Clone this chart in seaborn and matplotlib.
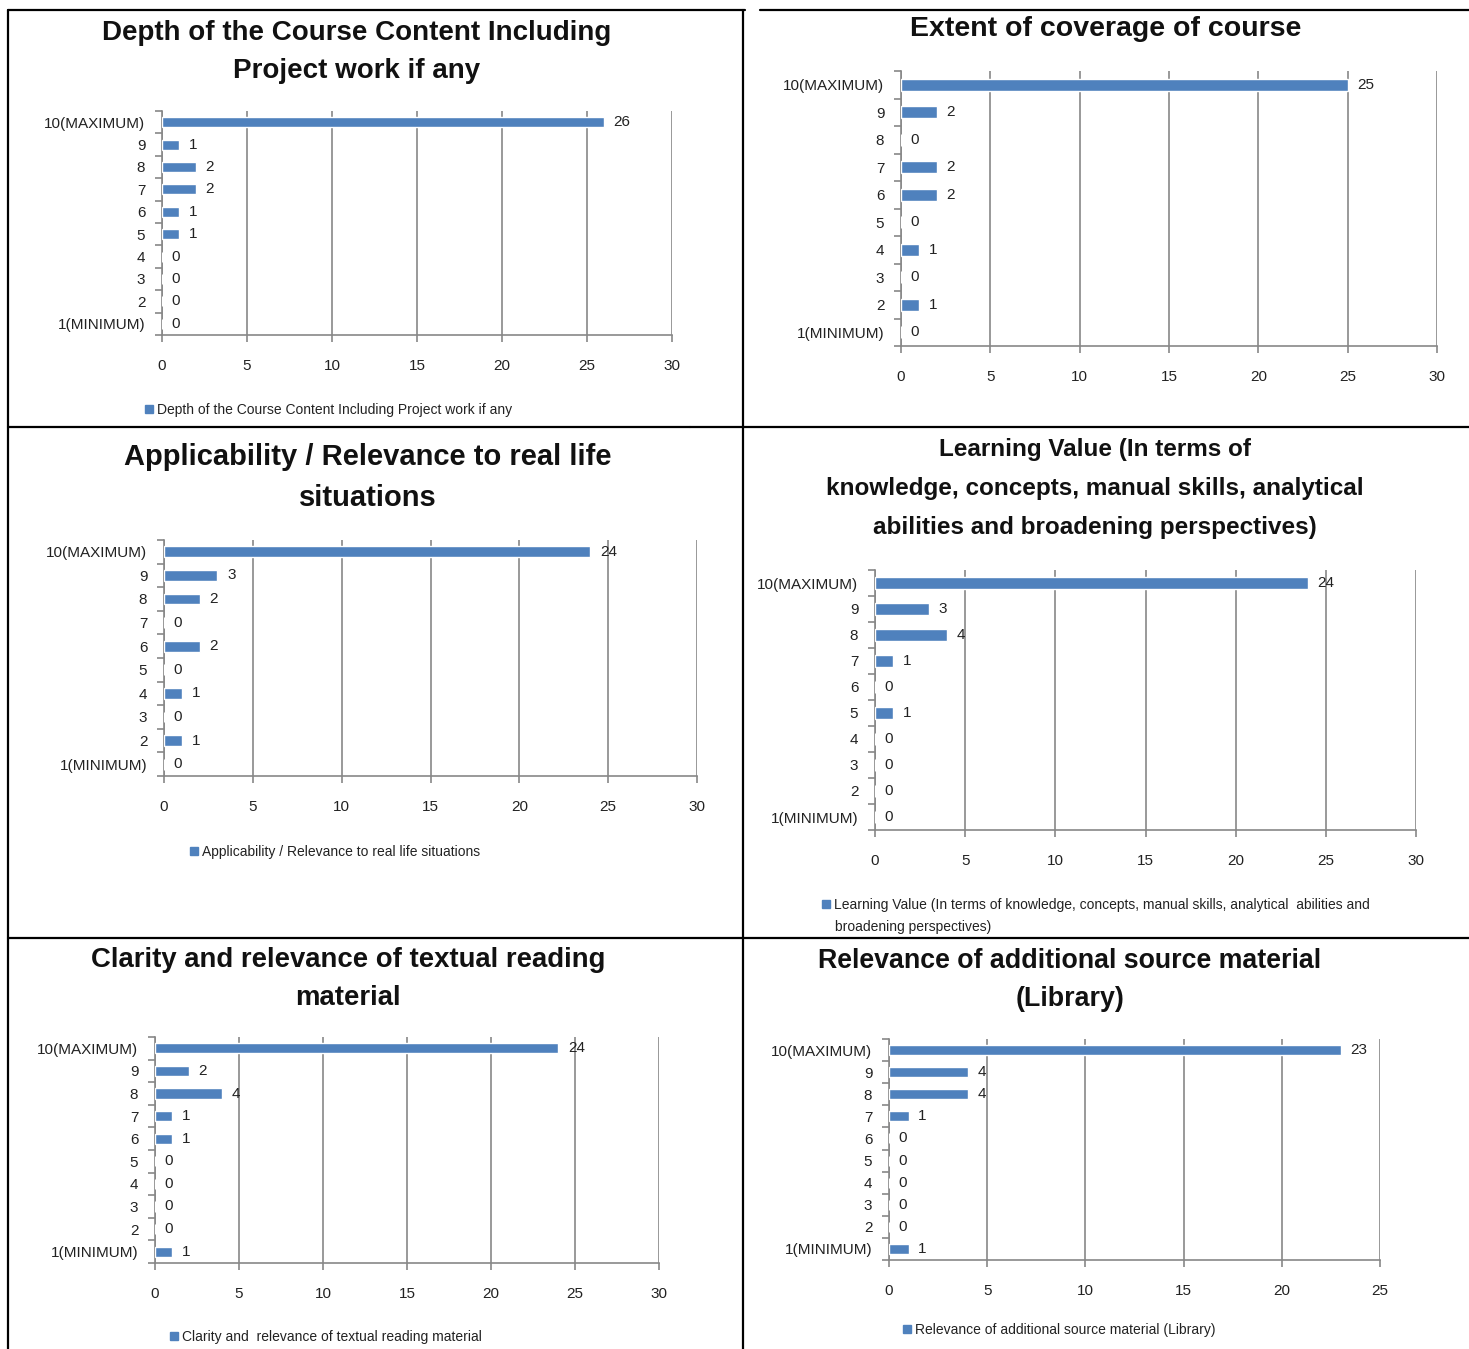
import matplotlib
matplotlib.use("Agg")
import matplotlib.pyplot as plt
from matplotlib.patches import Patch
from matplotlib.lines import Line2D
import seaborn as sns
import pandas as pd

sns.set_theme(style="white")
plt.rcParams['font.family'] = ['Liberation Sans', 'DejaVu Sans']

# ---------------- data ----------------
categories = ["10(MAXIMUM)", "9", "8", "7", "6", "5", "4", "3", "2", "1(MINIMUM)"]

depth_values = [26, 1, 2, 2, 1, 1, 0, 0, 0, 0]
extent_values = [25, 2, 0, 2, 2, 0, 1, 0, 1, 0]
applic_values = [24, 3, 2, 0, 2, 0, 1, 0, 1, 0]
learning_values = [24, 3, 4, 1, 0, 1, 0, 0, 0, 0]
clarity_values = [24, 2, 4, 1, 1, 0, 0, 0, 0, 1]
library_values = [23, 4, 4, 1, 0, 0, 0, 0, 0, 1]

titles = [
    "Depth of the Course Content Including\nProject work if any",
    "Extent of coverage of course",
    "Applicability / Relevance to real life\nsituations",
    "Learning Value (In terms of\nknowledge, concepts, manual skills, analytical\nabilities and broadening perspectives)",
    "Clarity and relevance of textual reading\nmaterial",
    "Relevance of additional source material\n(Library)",
]
legend_labels = [
    "Depth of the Course Content Including Project work if any",
    None,
    "Applicability / Relevance to real life situations",
    "Learning Value (In terms of knowledge, concepts, manual skills, analytical  abilities and",
    "Clarity and  relevance of textual reading material",
    "Relevance of additional source material (Library)",
]
legend_extra = [None, None, None, "broadening perspectives)", None, None]
x_max = [30, 30, 30, 30, 30, 25]
series = [depth_values, extent_values, applic_values, learning_values,
          clarity_values, library_values]

# ---------------- layout (pixels) ----------------
W, H = 1469, 1349
fig = plt.figure(figsize=(W / 100, H / 100), dpi=100)
fig.patch.set_facecolor("white")

boxes = [
    (162, 111, 672, 335),
    (901, 71, 1437, 346),
    (164, 540, 697, 776),
    (875, 570, 1416, 830),
    (155, 1037, 659, 1263),
    (889, 1039, 1380, 1260),
]
title_pos = [(357, 20), (1106, 16), (368, 443), (1095, 438), (348, 947), (1070, 948)]
title_size = [20, 20.5, 21, 17.5, 19.8, 19.3]
title_spacing = [1.6, 1.6, 1.6, 1.9, 1.6, 1.6]
legend_pos = [(145, 410), None, (190, 852), (822, 905), (170, 1337), (903, 1330)]

BLUE = "#4F81BD"
GRID = "#878787"

def fx(x):
    return x / W

def fy(y):
    return 1 - y / H

for i in range(6):
    l, t, r, b = boxes[i]
    ax = fig.add_axes([fx(l), fy(b), (r - l) / W, (b - t) / H])
    df = pd.DataFrame({"rating": categories, "count": series[i]})
    sns.barplot(data=df, y="rating", x="count", order=categories, orient="h",
                color=BLUE, saturation=1, width=0.45, ax=ax, zorder=3)
    ax.set_xlim(0, x_max[i])
    ax.set_ylim(9.5, -0.5)
    ax.set_xlabel("")
    ax.set_ylabel("")
    ax.set_xticks(range(0, x_max[i] + 1, 5))
    ax.xaxis.grid(True, color=GRID, linewidth=1.2, zorder=0)
    ax.yaxis.grid(False)
    for s in ["top", "right"]:
        ax.spines[s].set_visible(False)
    for s in ["left", "bottom"]:
        ax.spines[s].set_color(GRID)
        ax.spines[s].set_linewidth(1.2)
    ax.tick_params(axis="x", length=5, color=GRID, width=1.2, labelsize=11,
                   pad=12, labelcolor="#222222", direction="out", bottom=True)
    ax.tick_params(axis="y", which="major", length=0, labelsize=11, pad=12,
                   labelcolor="#222222", left=False)
    ax.set_yticks([k + 0.5 for k in range(-1, 10)], minor=True)
    ax.tick_params(axis="y", which="minor", length=5, color=GRID, width=1.2,
                   direction="out", left=True)
    for c in ax.containers:
        ax.bar_label(c, padding=7, fontsize=11, color="#222222")
    cx, ty = title_pos[i]
    fig.text(fx(cx), fy(ty), titles[i], ha="center", va="top",
             fontsize=title_size[i], fontweight="bold", color="#111111",
             linespacing=title_spacing[i])
    if legend_labels[i] is not None:
        lx, ly = legend_pos[i]
        fig.legend(handles=[Patch(facecolor=BLUE, edgecolor=BLUE)],
                   labels=[legend_labels[i]], loc="center left",
                   bbox_to_anchor=(fx(lx), fy(ly)), frameon=False,
                   fontsize=10, handlelength=0.55, handleheight=0.55,
                   handletextpad=0.3, borderaxespad=0, borderpad=0,
                   labelcolor="#222222")
    if legend_extra[i] is not None:
        lx, ly = legend_pos[i]
        fig.text(fx(lx + 13), fy(ly + 22), legend_extra[i], ha="left",
                 va="center", fontsize=10, color="#222222")

# ---------------- table borders ----------------
lines = [
    ((8, 745), (10, 10)),
    ((760, 1469), (10, 10)),
    ((8, 690), (427, 427)),
    ((690, 1469), (427, 427)),
    ((8, 1469), (938, 938)),
    ((8, 8), (10, 1349)),
    ((743, 743), (10, 1349)),
]
for (x0, x1), (y0, y1) in lines:
    fig.add_artist(Line2D([fx(x0), fx(x1)], [fy(y0), fy(y1)], color="black",
                          linewidth=1.6, transform=fig.transFigure))

fig.savefig("out.png", dpi=100, facecolor="white")
